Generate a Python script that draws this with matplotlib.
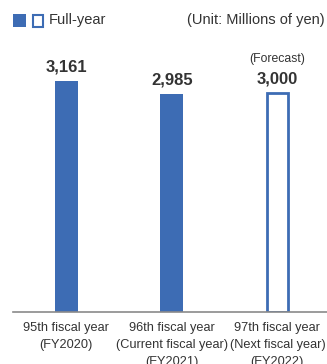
import matplotlib.pyplot as plt
from matplotlib.patches import Rectangle

plt.rcParams['font.family'] = ['Liberation Sans', 'DejaVu Sans']

years = ['95th fiscal year\n(FY2020)',
         '96th fiscal year\n(Current fiscal year)\n(FY2021)',
         '97th fiscal year\n(Next fiscal year)\n(FY2022)']
values = [3161, 2985, 3000]
forecast = [False, False, True]
value_labels = ['3,161', '2,985', '3,000']

blue = '#3d6cb4'
text_color = '#333333'

fig = plt.figure(figsize=(3.27, 3.64), dpi=100)
W, H = 327, 364
# axes: baseline at y=312 px, top at y=40 px
ax = fig.add_axes([13 / W, (H - 312) / H, (327 - 13) / W, (312 - 40) / H])
ax.set_xlim(-0.505, 2.47)
ax.set_ylim(0, 3720)

for i, (v, fc) in enumerate(zip(values, forecast)):
    if fc:
        ax.bar(i, v, width=0.2, color='white', edgecolor=blue, linewidth=2)
    else:
        ax.bar(i, v, width=0.22, color=blue, linewidth=0)
    ax.text(i, v + 90, value_labels[i], ha='center', va='bottom',
            fontsize=12, fontweight='bold', color=text_color)
    if fc:
        ax.text(i, v + 380, '(Forecast)', ha='center', va='bottom',
                fontsize=8.8, color=text_color)

for s in ['top', 'right', 'left']:
    ax.spines[s].set_visible(False)
ax.spines['bottom'].set_color('#8a8a8a')
ax.spines['bottom'].set_linewidth(1.2)
ax.set_yticks([])
ax.set_xticks(range(len(years)))
ax.set_xticklabels(years, fontsize=9.2, color=text_color, linespacing=1.52)
ax.tick_params(axis='x', length=0, pad=7.5)

# legend swatches and unit note
fig.patches.append(Rectangle((13 / W, 1 - 27 / H), 13 / W, 13 / H,
                             transform=fig.transFigure, facecolor=blue,
                             edgecolor='none'))
fig.patches.append(Rectangle((32.5 / W, 1 - 26.5 / H), 11 / W, 12 / H,
                             transform=fig.transFigure, facecolor='white',
                             edgecolor=blue, linewidth=1.5))
fig.text(49 / W, 1 - 20 / H, 'Full-year', fontsize=10.5, va='center',
         color=text_color)
fig.text(325 / W, 1 - 20 / H, '(Unit: Millions of yen)', fontsize=10.5,
         va='center', ha='right', color=text_color)

fig.savefig('out.png', dpi=100)
